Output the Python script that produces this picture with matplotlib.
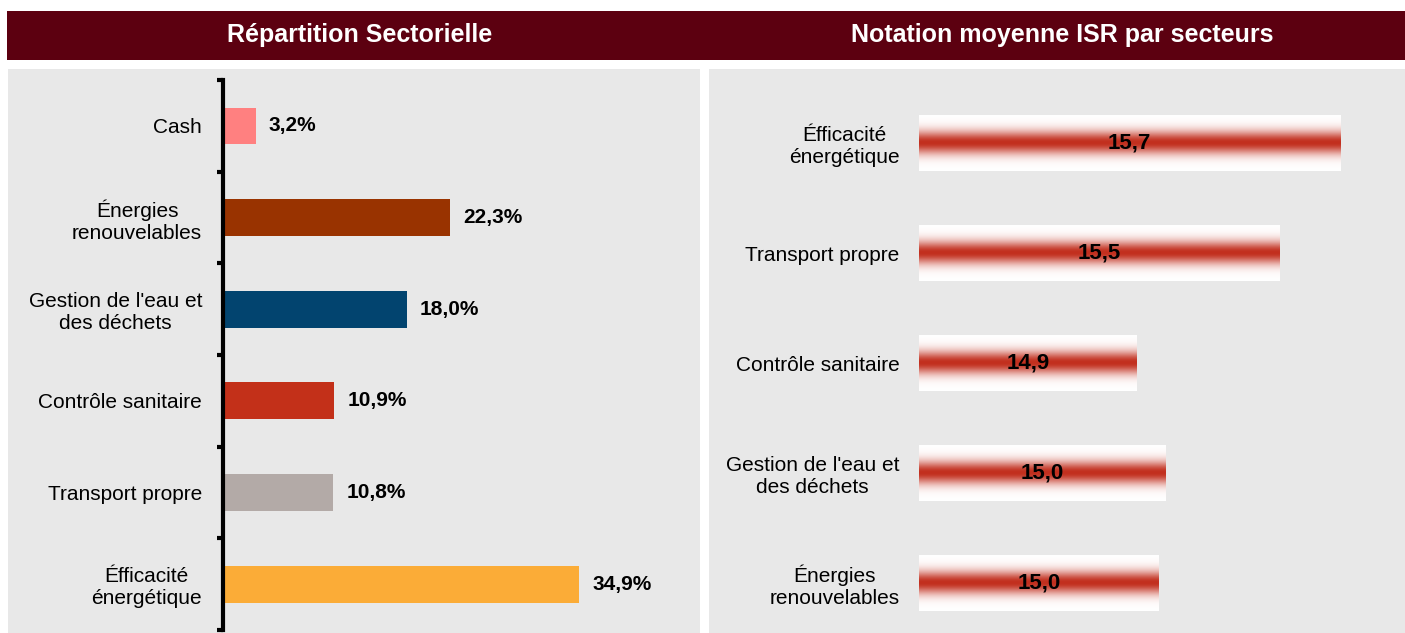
import numpy as np
import matplotlib
matplotlib.use("Agg")
import matplotlib.pyplot as plt
from matplotlib.colors import LinearSegmentedColormap

plt.rcParams['font.family'] = ['Liberation Sans', 'DejaVu Sans']

# Répartition sectorielle (%)
secteurs_gauche = ["Cash", "Énergies\nrenouvelables", "Gestion de l'eau et\ndes déchets",
                   "Contrôle sanitaire", "Transport propre", "Éfficacité\nénergétique"]
poids = [3.2, 22.3, 18.0, 10.9, 10.8, 34.9]
couleurs = ["#FF8080", "#993300", "#02446F", "#C33019", "#B3AAA7", "#FBAC37"]

# Notation moyenne ISR
secteurs_droite = ["Éfficacité\nénergétique", "Transport propre", "Contrôle sanitaire",
                   "Gestion de l'eau et\ndes déchets", "Énergies\nrenouvelables"]
notes = [15.74, 15.49, 14.90, 15.02, 14.99]
note_min = 14.0

W, H = 1405, 633
fig = plt.figure(figsize=(W / 100, H / 100), dpi=100)
fig.patch.set_facecolor("white")


def rect(x0, y0, x1, y1):
    # pixels -> fraction de figure (y depuis le haut)
    return [x0 / W, 1 - y1 / H, (x1 - x0) / W, (y1 - y0) / H]


# bandeau titre
hdr = fig.add_axes(rect(7, 11, 1405, 60))
hdr.set_facecolor("#5C0010")
hdr.set_xticks([]); hdr.set_yticks([])
for s in hdr.spines.values():
    s.set_visible(False)
fig.text(360 / W, 1 - 35 / H, "Répartition Sectorielle", color="white", fontsize=18,
         fontweight="bold", ha="center", va="center")
fig.text(1062 / W, 1 - 35 / H, "Notation moyenne ISR par secteurs", color="white", fontsize=18,
         fontweight="bold", ha="center", va="center")

# panneaux gris
for x0, x1 in [(8, 700), (709, 1405)]:
    p = fig.add_axes(rect(x0, 69, x1, 633))
    p.set_facecolor("#E8E8E8")
    p.set_xticks([]); p.set_yticks([])
    for s in p.spines.values():
        s.set_visible(False)
    p.set_zorder(0)

# --- graphique gauche ---
ax1 = fig.add_axes(rect(223, 80, 692, 630))
ax1.set_zorder(1)
ax1.patch.set_alpha(0)
y1 = np.arange(len(poids))
ax1.barh(y1, poids, height=0.4, color=couleurs)
ax1.set_xlim(0, 46)
ax1.set_ylim(5.5, -0.5)
for s in ["top", "right", "bottom"]:
    ax1.spines[s].set_visible(False)
ax1.spines["left"].set_linewidth(3)
ax1.set_xticks([])
ax1.set_yticks(y1)
ax1.set_yticklabels(secteurs_gauche, fontsize=15, multialignment="center")
ax1.tick_params(axis="y", which="major", length=0, pad=15)
ax1.set_yticks(np.arange(-0.5, 6.0, 1.0), minor=True)
ax1.tick_params(axis="y", which="minor", length=4, width=3, direction="out")
for yi, v in zip(y1, poids):
    ax1.text(v + 1.3, yi, f"{v:.1f}%".replace(".", ","), va="center", ha="left",
             fontsize=15, fontweight="bold")

# --- graphique droite ---
ax2 = fig.add_axes(rect(919, 80, 1403, 630))
ax2.set_zorder(1)
ax2.patch.set_alpha(0)
y2 = np.arange(len(notes))
largeurs = [n - note_min for n in notes]
bars = ax2.barh(y2, largeurs, left=note_min, height=0.51, color="none")

cmap = LinearSegmentedColormap.from_list("rouge", ["white", "#C22F1E"])
t = np.linspace(0, 1, 256)
profil = np.exp(-((t - 0.5) / 0.2) ** 2)
grad = np.tile(profil[:, None], (1, 2))
for b in bars:
    x0, yb = b.get_x(), b.get_y()
    im = ax2.imshow(grad, extent=[x0, x0 + b.get_width(), yb + b.get_height(), yb],
                    aspect="auto", cmap=cmap, vmin=0, vmax=1, interpolation="bilinear")
    im.set_clip_path(b)

ax2.set_xlim(note_min, 16.0)
ax2.set_ylim(4.427, -0.573)
for s in ax2.spines.values():
    s.set_visible(False)
ax2.set_xticks([])
ax2.set_yticks(y2)
ax2.set_yticklabels(secteurs_droite, fontsize=15, multialignment="center")
ax2.tick_params(axis="y", length=0, pad=14)
for yi, n in zip(y2, notes):
    ax2.text((note_min + n) / 2, yi, f"{n:.1f}".replace(".", ","), va="center", ha="center",
             fontsize=16, fontweight="bold")

fig.savefig("out.png", dpi=100)
